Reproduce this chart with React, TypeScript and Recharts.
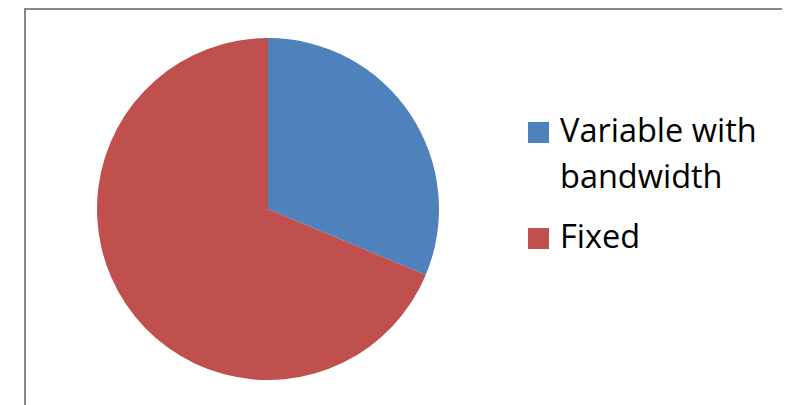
import { PieChart, Pie, Cell, Legend } from "recharts";

const NAMES = ["Variable with bandwidth", "Fixed"];
const VALUES = [31.3, 68.7];
const COLORS = ["#4F81BD", "#C0504D"];

const rows = NAMES.map((name, i) => ({ name, value: VALUES[i] }));

function Leyenda() {
  return (
    <div style={{ fontFamily: "'Open Sans', sans-serif", fontSize: 32.5, lineHeight: "46px", color: "#000" }}>
      {rows.map((r, i) => (
        <div key={r.name} style={{ display: "flex", alignItems: "flex-start", marginBottom: 14 }}>
          <div style={{ width: 21, height: 21, background: COLORS[i], marginTop: 15, marginRight: 11, flexShrink: 0 }} />
          <div style={{ width: 215 }}>{r.name}</div>
        </div>
      ))}
    </div>
  );
}

export default function App() {
  return (
    <div style={{ marginLeft: 16, width: 759, height: 420, border: "2px solid #888", background: "#fff" }}>
      <PieChart width={759} height={420} margin={{ top: 0, right: 0, bottom: 0, left: 0 }}>
        <Pie
          data={rows}
          dataKey="value"
          nameKey="name"
          cx={242}
          cy={199}
          outerRadius={171}
          startAngle={90}
          endAngle={-270}
          stroke="none"
          isAnimationActive={false}
        >
          {rows.map((r, i) => <Cell key={r.name} fill={COLORS[i]} />)}
        </Pie>
        <Legend content={<Leyenda />} wrapperStyle={{ left: 502, top: 97, width: 250 }} />
      </PieChart>
    </div>
  );
}
